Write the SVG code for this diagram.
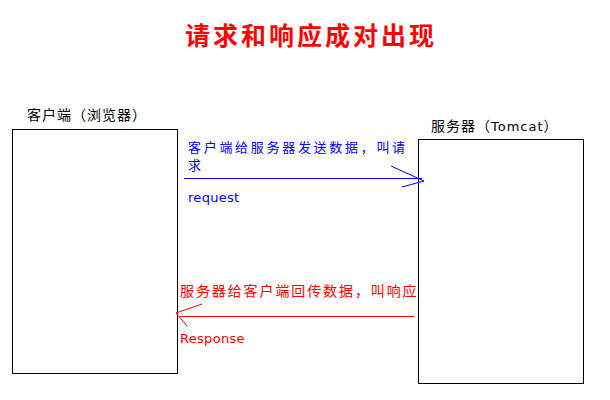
<svg xmlns="http://www.w3.org/2000/svg" width="610" height="400" viewBox="0 0 610 400">
<style>
.box{fill:#fff;stroke:#000;stroke-width:1}
.cjk{font-family:"Noto Sans CJK SC","Liberation Sans",sans-serif}
.lbl{font-size:14px;fill:#000;letter-spacing:1px}
.lat{font-family:"DejaVu Sans","Liberation Sans",sans-serif;font-size:13px}
.blue{fill:#0000ff}
.red{fill:#ff0000}
</style>
<rect width="610" height="400" fill="#fff"/>
<text class="cjk" x="311" y="45" text-anchor="middle" font-size="25" font-weight="bold" fill="#ff0000" letter-spacing="3">请求和响应成对出现</text>
<g id="client">
<rect class="box" x="12.500" y="129.500" width="165" height="244"/>
<text class="cjk lbl" x="27" y="120">客户端（浏览器）</text>
</g>
<g id="server">
<rect class="box" x="418.500" y="139.500" width="165" height="244"/>
<text class="cjk lbl" x="431" y="131">服务器（<tspan class="lat" font-size="14px">Tomcat</tspan>）</text>
</g>
<g id="connectors" fill="none" stroke-width="1">
<g id="request" stroke="#0000ff">
<line x1="184" y1="178.500" x2="422" y2="178.500"/>
<polyline points="391,166 424,181 402,187"/>
</g>
<g id="response" stroke="#ff0000">
<line x1="180" y1="316.500" x2="414" y2="316.500"/>
<polyline points="202,304 176,313 187,326"/>
</g>
</g>
<g id="labels">
<text class="cjk blue" font-size="13"><tspan x="188" y="152" letter-spacing="2.7">客户端给服务器发送数据，叫请</tspan><tspan x="188" y="170">求</tspan></text>
<text class="lat blue" x="188" y="202" letter-spacing="0.3">request</text>
<text class="cjk red" x="180" y="296" font-size="14" letter-spacing="1.9">服务器给客户端回传数据，叫响应</text>
<text class="lat red" x="180" y="343" letter-spacing="0.3">Response</text>
</g>
</svg>
